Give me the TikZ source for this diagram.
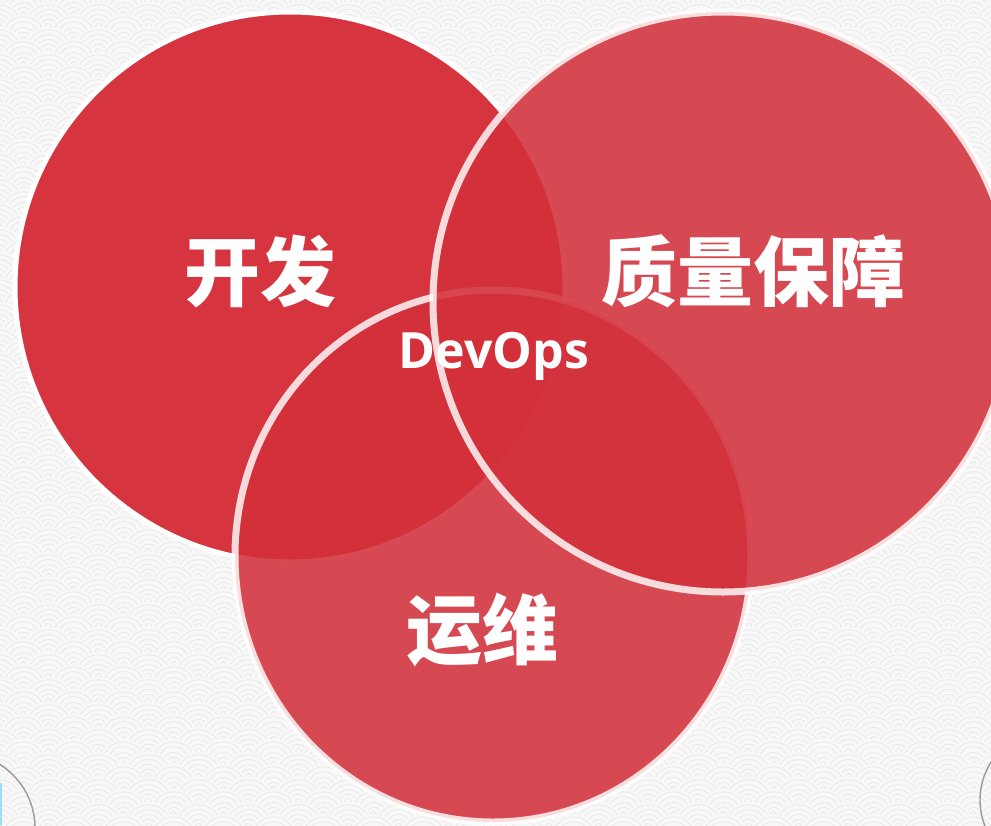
\documentclass[tikz,border=0pt]{standalone}
\usepackage{fontspec}
\usetikzlibrary{patterns.meta}
\newfontfamily\cjk{Noto Sans CJK SC}
\newfontfamily\latinb{Open Sans}
\definecolor{bgc}{HTML}{F8F8F8}
\definecolor{wavec}{HTML}{E8E8E8}
\definecolor{redA}{HTML}{D63540}
\definecolor{redT}{HTML}{D3303A}
\definecolor{cornerc}{HTML}{9A9A9A}
\definecolor{bluec}{HTML}{9FDCF5}
\tikzset{
  wave/.style={draw=wavec, line width=0.8pt},
  bigcjk/.style={text=white, font=\cjk\bfseries\fontsize{76}{80}\selectfont, inner sep=0pt},
  devops/.style={text=white, font=\latinb\bfseries\fontsize{50}{54}\selectfont, inner sep=0pt},
  circleA/.style={fill=redA, draw=white, line width=5pt},
  circleT/.style={fill=redT, fill opacity=0.87, draw=white, draw opacity=0.82, line width=7pt},
  cornerarc/.style={draw=cornerc, line width=1.4pt}
}
\tikzdeclarepattern{
  name=seigaiha, type=colored,
  bottom left={(0pt,0pt)}, top right={(50pt,25pt)},
  tile size={(50pt,25pt)},
  code={
    \foreach \k in {4,3,2,1,0,-1,-2} {
      \pgfmathsetmacro\off{mod(\k+10,2)*25}
      \foreach \i in {-1,0,1} {
        \pgfmathsetmacro\xx{\off+50*\i}
        \fill[bgc] ({\xx*1pt},{\k*12.5pt}) circle[radius=25pt];
        \draw[wave] ({\xx*1pt},{\k*12.5pt}) circle[radius=22pt]
                    ({\xx*1pt},{\k*12.5pt}) circle[radius=17pt]
                    ({\xx*1pt},{\k*12.5pt}) circle[radius=12pt]
                    ({\xx*1pt},{\k*12.5pt}) circle[radius=7pt]
                    ({\xx*1pt},{\k*12.5pt}) circle[radius=2.5pt];
      }
    }
  }
}
\begin{document}
\begin{tikzpicture}[x=1pt,y=-1pt]
\useasboundingbox (0,0) rectangle (991,825);
\clip (0,0) rectangle (991,825);
\fill[bgc] (0,0) rectangle (991,825);
\fill[pattern=seigaiha] (0,0) rectangle (991,825);
% corner decorations
\coordinate (cl) at (-40,828);
\coordinate (cr) at (1050,800);
\draw[cornerarc] (cl) circle[radius=75pt];
\draw[cornerarc] (cr) circle[radius=70pt];
\fill[bluec] (0,783) rectangle (1.5,825);
% circles
\coordinate (cdev) at (290,287);
\coordinate (cops) at (493,556);
\coordinate (cqa) at (723,302);
\draw[circleA] (cdev) circle[radius=275pt];
\draw[circleT] (cops) ellipse[x radius=258pt, y radius=266pt];
\draw[circleT] (cqa) circle[radius=290pt];
% labels
\node[bigcjk] (dev) at (260,271) {开发};
\node[bigcjk] (qa) at (753,271) {质量保障};
\node[bigcjk] (ops) at (482,630) {运维};
\node[devops, anchor=base] (devopstext) at (494,368) {DevOps};
\end{tikzpicture}
\end{document}
